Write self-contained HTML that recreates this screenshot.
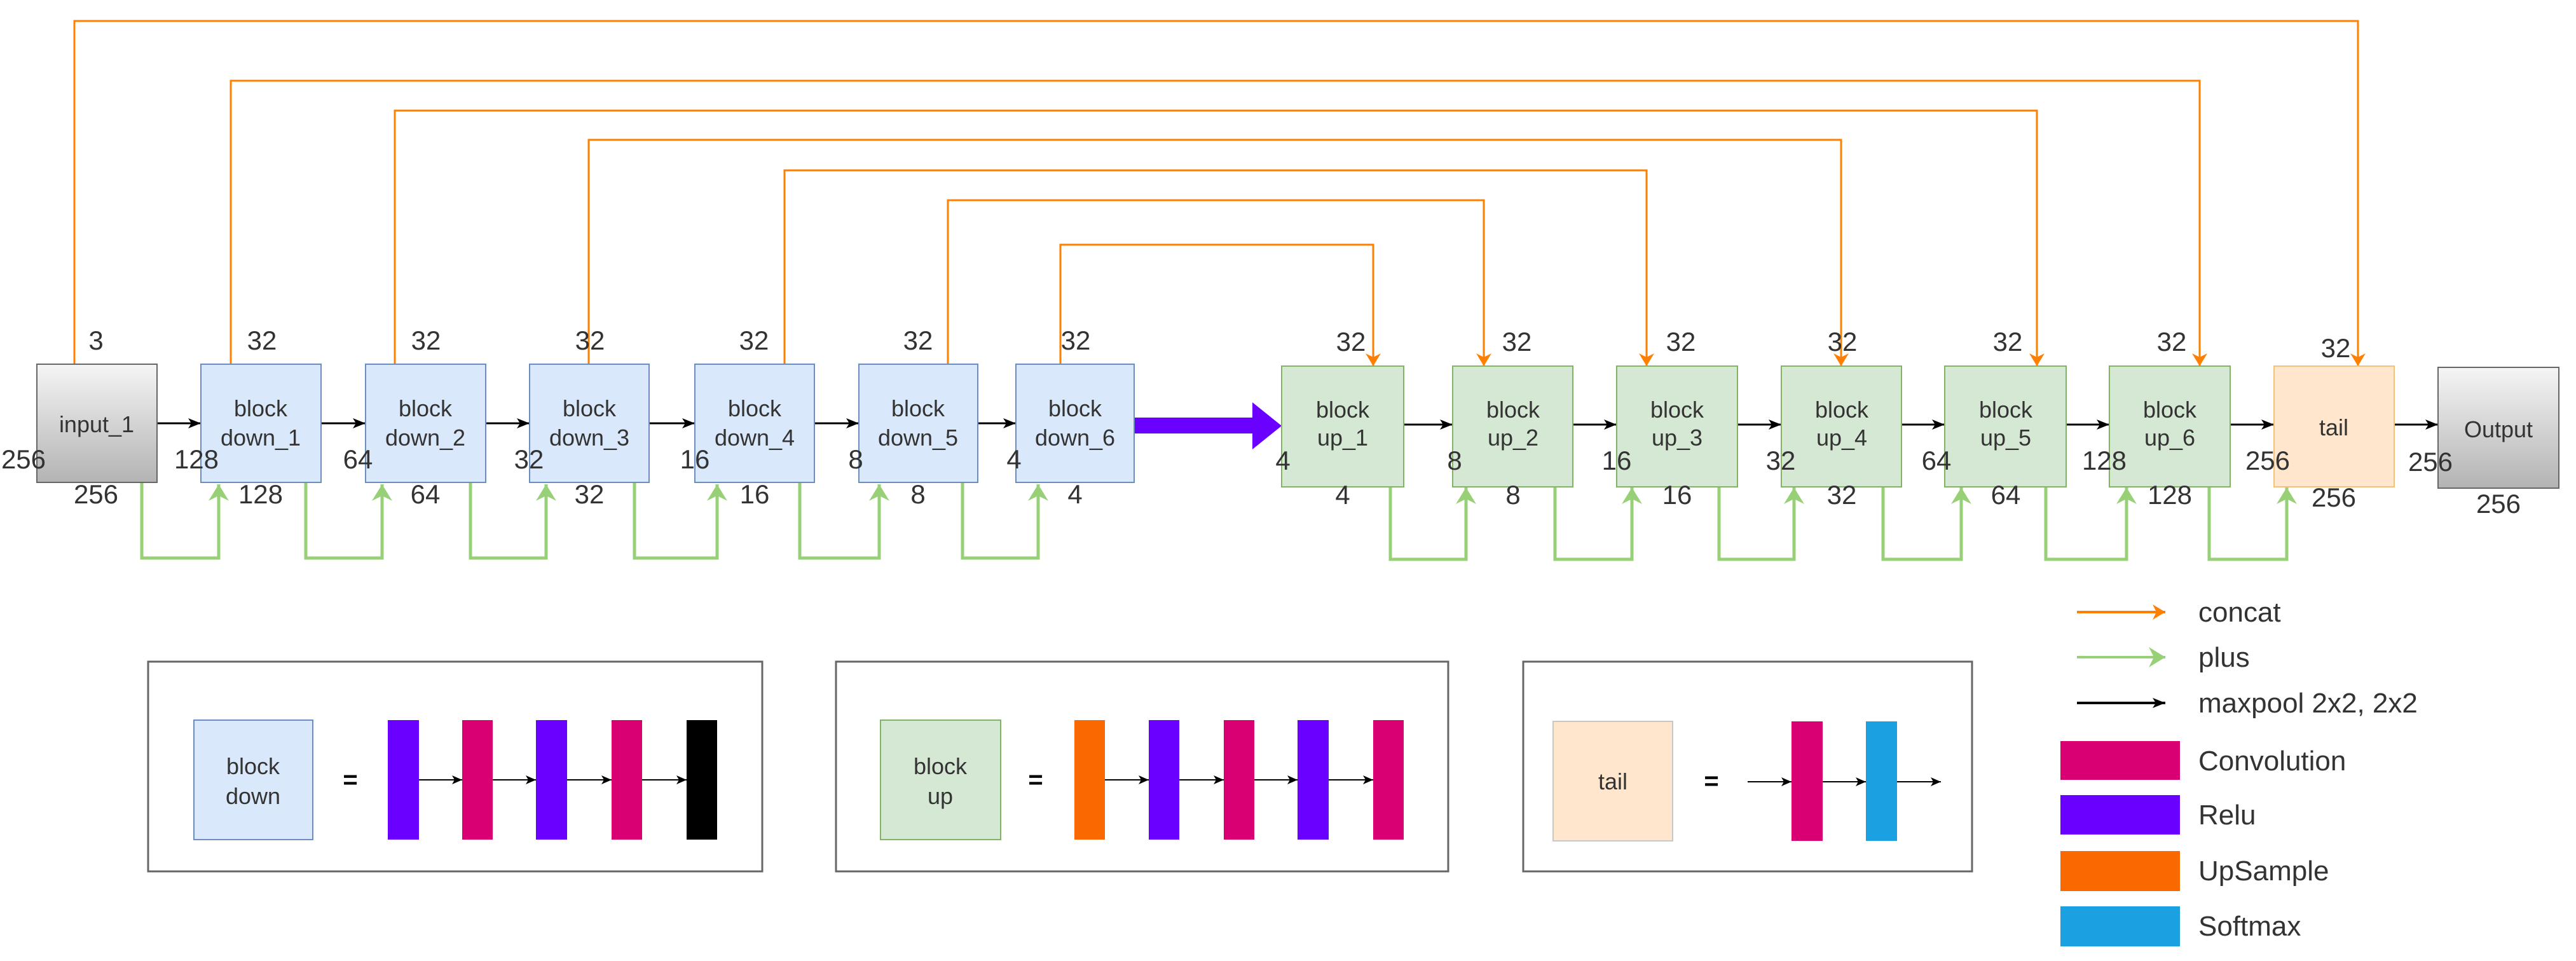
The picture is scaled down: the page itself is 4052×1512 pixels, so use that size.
<!DOCTYPE html>
<html><head><meta charset="utf-8"><style>
html,body{margin:0;padding:0;background:#fff;}
svg{display:block;}
text{font-family:"Liberation Sans",Arial,sans-serif;fill:#333;}
</style></head><body>
<svg width="4052" height="1512" viewBox="0 0 4052 1512" xmlns="http://www.w3.org/2000/svg">
<defs>
<linearGradient id="gg" x1="0" y1="0" x2="0" y2="1"><stop offset="0" stop-color="#f5f5f5"/><stop offset="1" stop-color="#b3b3b3"/></linearGradient>
<marker id="ao" markerWidth="20" markerHeight="24" refX="20" refY="12" orient="auto" markerUnits="userSpaceOnUse"><path d="M0,0 L20,12 L0,24 L6,12 Z" fill="#ff8000"/></marker>
<marker id="ag" markerWidth="26" markerHeight="32" refX="26" refY="16" orient="auto" markerUnits="userSpaceOnUse"><path d="M0,0 L26,16 L0,32 L8,16 Z" fill="#97d077"/></marker>
<marker id="ak" markerWidth="20" markerHeight="16" refX="20" refY="8" orient="auto" markerUnits="userSpaceOnUse"><path d="M0,0 L20,8 L0,16 L5,8 Z" fill="#000"/></marker>
<marker id="ak2" markerWidth="16" markerHeight="14" refX="16" refY="7" orient="auto" markerUnits="userSpaceOnUse"><path d="M0,0 L16,7 L0,14 L4,7 Z" fill="#000"/></marker>
</defs>

<!-- orange concat connectors -->
<g fill="none" stroke="#ff8000" stroke-width="3">
<path d="M117,574 V33 H3709 V576" marker-end="url(#ao)"/>
<path d="M363,574 V127 H3460 V576" marker-end="url(#ao)"/>
<path d="M621,574 V174 H3204 V576" marker-end="url(#ao)"/>
<path d="M926,574 V220 H2896 V576" marker-end="url(#ao)"/>
<path d="M1234,574 V268 H2590 V576" marker-end="url(#ao)"/>
<path d="M1491,574 V315 H2334 V576" marker-end="url(#ao)"/>
<path d="M1668,574 V385 H2160 V576" marker-end="url(#ao)"/>
</g>

<!-- green plus connectors -->
<g fill="none" stroke="#97d077" stroke-width="5">
<path d="M223,760 V878 H344 V762" marker-end="url(#ag)"/>
<path d="M481,760 V878 H601 V762" marker-end="url(#ag)"/>
<path d="M740,760 V878 H859 V762" marker-end="url(#ag)"/>
<path d="M998,760 V878 H1128 V762" marker-end="url(#ag)"/>
<path d="M1258,760 V878 H1383 V762" marker-end="url(#ag)"/>
<path d="M1514,760 V878 H1633 V762" marker-end="url(#ag)"/>
<path d="M2187,766 V880 H2306 V767" marker-end="url(#ag)"/>
<path d="M2446,766 V880 H2567 V767" marker-end="url(#ag)"/>
<path d="M2704,766 V880 H2822 V767" marker-end="url(#ag)"/>
<path d="M2962,766 V880 H3085 V767" marker-end="url(#ag)"/>
<path d="M3218,766 V880 H3345 V767" marker-end="url(#ag)"/>
<path d="M3475,766 V880 H3597 V767" marker-end="url(#ag)"/>
</g>

<!-- black maxpool arrows -->
<g stroke="#000" stroke-width="3" fill="none">
<path d="M247,666 H316" marker-end="url(#ak)"/>
<path d="M505,666 H575" marker-end="url(#ak)"/>
<path d="M764,666 H833" marker-end="url(#ak)"/>
<path d="M1021,666 H1093" marker-end="url(#ak)"/>
<path d="M1281,666 H1351" marker-end="url(#ak)"/>
<path d="M1538,666 H1598" marker-end="url(#ak)"/>
<path d="M2208,668 H2285" marker-end="url(#ak)"/>
<path d="M2474,668 H2543" marker-end="url(#ak)"/>
<path d="M2733,668 H2802" marker-end="url(#ak)"/>
<path d="M2991,668 H3059" marker-end="url(#ak)"/>
<path d="M3250,668 H3318" marker-end="url(#ak)"/>
<path d="M3508,668 H3577" marker-end="url(#ak)"/>
<path d="M3766,668 H3835" marker-end="url(#ak)"/>
</g>

<!-- purple big arrow -->
<path d="M1784,657 H1970 V633 L2016,670 L1970,707 V682 H1784 Z" fill="#6a00ff"/>

<!-- input -->
<rect x="58" y="573" width="189" height="186" fill="url(#gg)" stroke="#666" stroke-width="2"/>
<text x="152" y="680" font-size="36" text-anchor="middle">input_1</text>

<!-- down blocks -->
<g fill="#dae8fc" stroke="#6c8ebf" stroke-width="2">
<rect x="316" y="573" width="189" height="186"/>
<rect x="575" y="573" width="189" height="186"/>
<rect x="833" y="573" width="188" height="186"/>
<rect x="1093" y="573" width="188" height="186"/>
<rect x="1351" y="573" width="187" height="186"/>
<rect x="1598" y="573" width="186" height="186"/>
</g>
<g font-size="36" text-anchor="middle">
<text x="410" y="655">block</text><text x="410" y="701">down_1</text>
<text x="669" y="655">block</text><text x="669" y="701">down_2</text>
<text x="927" y="655">block</text><text x="927" y="701">down_3</text>
<text x="1187" y="655">block</text><text x="1187" y="701">down_4</text>
<text x="1444" y="655">block</text><text x="1444" y="701">down_5</text>
<text x="1691" y="655">block</text><text x="1691" y="701">down_6</text>
</g>

<!-- up blocks -->
<g fill="#d5e8d4" stroke="#82b366" stroke-width="2">
<rect x="2016" y="576" width="192" height="190"/>
<rect x="2285" y="576" width="189" height="190"/>
<rect x="2543" y="576" width="190" height="190"/>
<rect x="2802" y="576" width="189" height="190"/>
<rect x="3059" y="576" width="191" height="190"/>
<rect x="3318" y="576" width="190" height="190"/>
</g>
<g font-size="36" text-anchor="middle">
<text x="2112" y="657">block</text><text x="2112" y="701">up_1</text>
<text x="2380" y="657">block</text><text x="2380" y="701">up_2</text>
<text x="2638" y="657">block</text><text x="2638" y="701">up_3</text>
<text x="2897" y="657">block</text><text x="2897" y="701">up_4</text>
<text x="3155" y="657">block</text><text x="3155" y="701">up_5</text>
<text x="3413" y="657">block</text><text x="3413" y="701">up_6</text>
</g>
<rect x="3577" y="576" width="189" height="190" fill="#ffe6cc" stroke="#f0c27a" stroke-width="2"/>
<text x="3671" y="685" font-size="36" text-anchor="middle">tail</text>
<rect x="3835" y="578" width="190" height="190" fill="url(#gg)" stroke="#666" stroke-width="2"/>
<text x="3930" y="688" font-size="36" text-anchor="middle">Output</text>

<!-- numeric labels -->
<g font-size="42" text-anchor="middle">
<text x="151" y="550">3</text>
<text x="412" y="550">32</text><text x="670" y="550">32</text><text x="928" y="550">32</text>
<text x="1186" y="550">32</text><text x="1444" y="550">32</text><text x="1692" y="550">32</text>
<text x="2125" y="552">32</text><text x="2386" y="552">32</text><text x="2644" y="552">32</text>
<text x="2898" y="552">32</text><text x="3158" y="552">32</text><text x="3416" y="552">32</text>
<text x="3674" y="562">32</text>

<text x="37" y="737">256</text><text x="309" y="737">128</text><text x="563" y="737">64</text>
<text x="832" y="737">32</text><text x="1093" y="737">16</text><text x="1346" y="737">8</text>
<text x="1595" y="737">4</text>
<text x="2018" y="739">4</text><text x="2288" y="739">8</text><text x="2543" y="739">16</text>
<text x="2801" y="739">32</text><text x="3046" y="739">64</text><text x="3310" y="739">128</text>
<text x="3567" y="739">256</text><text x="3823" y="741">256</text>

<text x="151" y="792">256</text><text x="410" y="792">128</text><text x="669" y="792">64</text>
<text x="927" y="792">32</text><text x="1187" y="792">16</text><text x="1444" y="792">8</text>
<text x="1691" y="792">4</text>
<text x="2112" y="793">4</text><text x="2380" y="793">8</text><text x="2638" y="793">16</text>
<text x="2897" y="793">32</text><text x="3155" y="793">64</text><text x="3413" y="793">128</text>
<text x="3671" y="797">256</text><text x="3930" y="807">256</text>
</g>

<!-- lower panels -->
<g fill="#fff" stroke="#666" stroke-width="3">
<rect x="233" y="1041" width="966" height="330"/>
<rect x="1315" y="1041" width="963" height="330"/>
<rect x="2396" y="1041" width="706" height="330"/>
</g>
<!-- panel 1 -->
<rect x="305" y="1133" width="187" height="188" fill="#dae8fc" stroke="#6c8ebf" stroke-width="2"/>
<text x="398" y="1218" font-size="36" text-anchor="middle">block</text>
<text x="398" y="1265" font-size="36" text-anchor="middle">down</text>
<text x="551" y="1240" font-size="40" font-weight="bold" text-anchor="middle" style="fill:#000">=</text>
<rect x="610" y="1133" width="49" height="188" fill="#6a00ff"/>
<rect x="727" y="1133" width="48" height="188" fill="#d80073"/>
<rect x="843" y="1133" width="49" height="188" fill="#6a00ff"/>
<rect x="962" y="1133" width="48" height="188" fill="#d80073"/>
<rect x="1080" y="1133" width="48" height="188" fill="#000"/>
<g stroke="#000" stroke-width="2">
<path d="M659,1227 H727" marker-end="url(#ak2)"/>
<path d="M775,1227 H843" marker-end="url(#ak2)"/>
<path d="M892,1227 H962" marker-end="url(#ak2)"/>
<path d="M1010,1227 H1080" marker-end="url(#ak2)"/>
</g>
<!-- panel 2 -->
<rect x="1385" y="1133" width="189" height="188" fill="#d5e8d4" stroke="#82b366" stroke-width="2"/>
<text x="1479" y="1218" font-size="36" text-anchor="middle">block</text>
<text x="1479" y="1265" font-size="36" text-anchor="middle">up</text>
<text x="1629" y="1240" font-size="40" font-weight="bold" text-anchor="middle" style="fill:#000">=</text>
<rect x="1690" y="1133" width="48" height="188" fill="#fa6800"/>
<rect x="1807" y="1133" width="48" height="188" fill="#6a00ff"/>
<rect x="1925" y="1133" width="48" height="188" fill="#d80073"/>
<rect x="2041" y="1133" width="49" height="188" fill="#6a00ff"/>
<rect x="2160" y="1133" width="48" height="188" fill="#d80073"/>
<g stroke="#000" stroke-width="2">
<path d="M1738,1227 H1807" marker-end="url(#ak2)"/>
<path d="M1855,1227 H1925" marker-end="url(#ak2)"/>
<path d="M1973,1227 H2041" marker-end="url(#ak2)"/>
<path d="M2090,1227 H2160" marker-end="url(#ak2)"/>
</g>
<!-- panel 3 -->
<rect x="2443" y="1135" width="188" height="188" fill="#ffe6cc" stroke="#c8c8c8" stroke-width="2"/>
<text x="2537" y="1242" font-size="36" text-anchor="middle">tail</text>
<text x="2692" y="1242" font-size="40" font-weight="bold" text-anchor="middle" style="fill:#000">=</text>
<rect x="2818" y="1135" width="49" height="188" fill="#d80073"/>
<rect x="2935" y="1135" width="49" height="188" fill="#1ba1e2"/>
<g stroke="#000" stroke-width="2">
<path d="M2749,1230 H2818" marker-end="url(#ak2)"/>
<path d="M2867,1230 H2935" marker-end="url(#ak2)"/>
<path d="M2984,1230 H3053" marker-end="url(#ak2)"/>
</g>

<!-- legend -->
<path d="M3267,963 H3406" stroke="#ff8000" stroke-width="4" marker-end="url(#ao)"/>
<path d="M3267,1034 H3406" stroke="#97d077" stroke-width="4" marker-end="url(#ag)"/>
<path d="M3267,1106 H3406" stroke="#000" stroke-width="4" marker-end="url(#ak)"/>
<g font-size="44">
<text x="3458" y="978">concat</text>
<text x="3458" y="1049">plus</text>
<text x="3458" y="1121">maxpool 2x2, 2x2</text>
<text x="3458" y="1212">Convolution</text>
<text x="3458" y="1297">Relu</text>
<text x="3458" y="1385">UpSample</text>
<text x="3458" y="1472">Softmax</text>
</g>
<rect x="3241" y="1166" width="188" height="61" fill="#d80073"/>
<rect x="3241" y="1251" width="188" height="62" fill="#6a00ff"/>
<rect x="3241" y="1339" width="188" height="63" fill="#fa6800"/>
<rect x="3241" y="1426" width="188" height="63" fill="#1ba1e2"/>
</svg>
</body></html>
